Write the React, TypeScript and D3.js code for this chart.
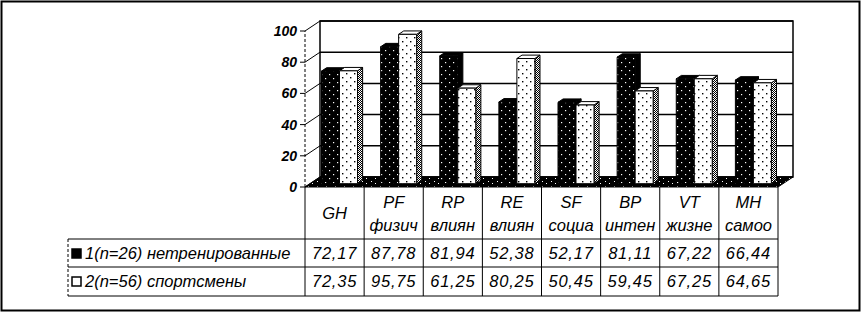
import React from 'react';
import * as d3 from 'd3';

const categories = ['GH', 'PF', 'RP', 'RE', 'SF', 'BP', 'VT', 'MH'];
const subLabels = ['', 'физич', 'влиян', 'влиян', 'социа', 'интен', 'жизне', 'самоо'];
const series1 = [72.17, 87.78, 81.94, 52.38, 52.17, 81.11, 67.22, 66.44];
const series2 = [72.35, 95.75, 61.25, 80.25, 50.45, 59.45, 67.25, 64.65];
const seriesNames = ['1(n=26) нетренированные', '2(n=56) спортсмены'];
const yTicks = [0, 20, 40, 60, 80, 100];

const W = 862;
const H = 314;
const X0 = 305;
const X1 = 778;
const Y0 = 187;
const Y100 = 31;
const DX = 15;
const DY = 10;
const ZF = 0.33;
const ZB = 0.67;
const BAR_W = 18;

const FONT = '"Liberation Sans", Arial, sans-serif';

export default function App() {
  const x = d3.scaleBand<string>().domain(categories).range([X0, X1]);
  const y = d3.scaleLinear().domain([0, 100]).range([Y0, Y100]);
  const P = (px: number, v: number, z: number): [number, number] => [px + DX * z, y(v) - DY * z];
  const poly = (pts: [number, number][]) => pts.map((p) => p.join(',')).join(' ');
  const fmt = (v: number) => d3.format('.2f')(v).replace('.', ',');
  const bw = x.bandwidth();

  const rowTop = [239, 267];
  const rowBot = 296;
  const legendLeft = 68;

  const bars: JSX.Element[] = [];
  categories.forEach((c, i) => {
    const start = (x(c) as number) + (bw - 2 * BAR_W) / 2;
    [series1[i], series2[i]].forEach((v, s) => {
      const l = start + s * BAR_W;
      const r = l + BAR_W;
      const dark = s === 0;
      const front = poly([P(l, 0, ZF), P(r, 0, ZF), P(r, v, ZF), P(l, v, ZF)]);
      const side = poly([P(r, 0, ZF), P(r, 0, ZB), P(r, v, ZB), P(r, v, ZF)]);
      const top = poly([P(l, v, ZF), P(r, v, ZF), P(r, v, ZB), P(l, v, ZB)]);
      bars.push(
        <g key={c + s}>
          <polygon points={side} fill={dark ? '#000' : 'url(#sidePat)'} stroke="#000" strokeWidth={1} />
          <polygon points={top} fill={dark ? '#000' : '#fff'} stroke="#000" strokeWidth={1} />
          <polygon points={front} fill={dark ? 'url(#darkPat)' : 'url(#lightPat)'} stroke="#000" strokeWidth={1} />
        </g>
      );
    });
  });

  return (
    <div style={{ position: 'absolute', left: 0, top: 0 }}>
      <svg width={W} height={H} style={{ display: 'block', background: '#fff' }}>
        <defs>
          <pattern id="darkPat" width="8" height="8" patternUnits="userSpaceOnUse">
            <rect width="8" height="8" fill="#000" />
            <rect x="1" y="2" width="1.2" height="1.2" fill="#fff" />
            <rect x="5" y="6" width="1.2" height="1.2" fill="#fff" />
          </pattern>
          <pattern id="lightPat" width="8" height="8" patternUnits="userSpaceOnUse">
            <rect width="8" height="8" fill="#fff" />
            <rect x="2" y="1" width="1.4" height="1.4" fill="#000" />
            <rect x="6" y="5" width="1.4" height="1.4" fill="#000" />
          </pattern>
          <pattern id="sidePat" width="2" height="2" patternUnits="userSpaceOnUse">
            <rect width="2" height="2" fill="#fff" />
            <rect x="0" y="0" width="1" height="1" fill="#000" />
            <rect x="1" y="1" width="1" height="1" fill="#000" />
          </pattern>
          <pattern id="floorPat" width="9" height="5" patternUnits="userSpaceOnUse">
            <rect width="9" height="5" fill="#000" />
            <rect x="2" y="1" width="1" height="1" fill="#fff" />
            <rect x="6" y="3" width="1" height="1" fill="#fff" />
          </pattern>
        </defs>

        {/* outer frame */}
        <rect x={1.5} y={1.5} width={858} height={309} fill="#fff" stroke="#000" strokeWidth={2} />

        {/* back wall */}
        <rect x={X0 + DX} y={y(100) - DY} width={X1 - X0} height={y(0) - y(100)} fill="#fff" stroke="#000" strokeWidth={1.5} />
        {yTicks.map((t) => (
          <line key={'g' + t} x1={X0 + DX} x2={X1 + DX} y1={y(t) - DY} y2={y(t) - DY} stroke="#000" strokeWidth={1.5} />
        ))}

        {/* floor */}
        <polygon points={poly([P(X0, 0, 0), P(X1, 0, 0), P(X1, 0, 1), P(X0, 0, 1)])} fill="url(#floorPat)" stroke="#000" strokeWidth={1} />

        {/* y axis */}
        <line x1={X0} x2={X0} y1={y(0)} y2={y(100)} stroke="#000" strokeWidth={1} strokeDasharray="3,2" />
        {yTicks.map((t) => (
          <g key={'t' + t}>
            <line x1={X0 - 5} x2={X0} y1={y(t)} y2={y(t)} stroke="#000" strokeWidth={1} />
            <line x1={X0} x2={X0 + DX} y1={y(t)} y2={y(t) - DY} stroke="#000" strokeWidth={1} />
            <text x={X0 - 8} y={y(t)} dy="0.35em" textAnchor="end" fontFamily={FONT} fontStyle="italic" fontWeight="bold" fontSize={14}>
              {t}
            </text>
          </g>
        ))}

        {bars}

        {/* data table */}
        <g fontFamily={FONT} fontStyle="italic" fontSize={16.5} fill="#000">
          {/* header */}
          {categories.map((c, i) => {
            const cx = (x(c) as number) + bw / 2;
            return subLabels[i] ? (
              <g key={'h' + c}>
                <text x={cx} y={208} textAnchor="middle">{c}</text>
                <text x={cx} y={231} textAnchor="middle">{subLabels[i]}</text>
              </g>
            ) : (
              <text key={'h' + c} x={cx} y={219} textAnchor="middle">{c}</text>
            );
          })}
          {/* grid lines */}
          {[...categories.map((c) => x(c) as number), X1].map((vx, i) => (
            <line key={'v' + i} x1={vx} x2={vx} y1={y(0)} y2={rowBot} stroke="#000" strokeWidth={1} />
          ))}
          <line x1={legendLeft} x2={legendLeft} y1={rowTop[0]} y2={rowBot} stroke="#000" strokeWidth={1} strokeDasharray="3,2" />
          {[rowTop[0], rowTop[1], rowBot].map((ly, i) => (
            <line key={'r' + i} x1={legendLeft} x2={X1} y1={ly} y2={ly} stroke="#000" strokeWidth={1} />
          ))}
          {[series1, series2].map((ser, s) => (
            <g key={'row' + s}>
              <rect x={72} y={rowTop[s] + 10} width={9} height={9} fill={s === 0 ? '#000' : '#fff'} stroke="#000" strokeWidth={1.5} />
              <text x={85} y={rowTop[s] + 20}>{seriesNames[s]}</text>
              {ser.map((v, i) => (
                <text key={i} x={(x(categories[i]) as number) + bw / 2} y={rowTop[s] + 20} textAnchor="middle" letterSpacing={0.8}>
                  {fmt(v)}
                </text>
              ))}
            </g>
          ))}
        </g>
      </svg>
    </div>
  );
}
